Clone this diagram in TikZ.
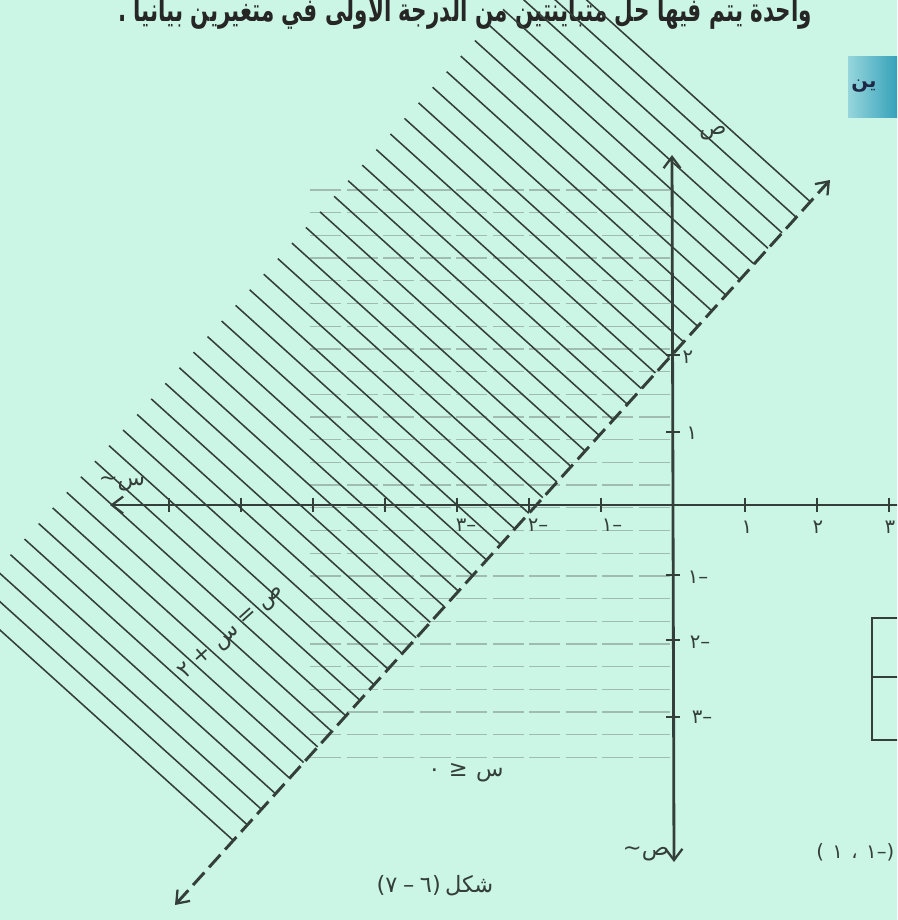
\documentclass[tikz,border=0pt]{standalone}
\usepackage{fontspec}
\usepackage{tikz}
\usetikzlibrary{arrows.meta,calc}
\TeXXeTstate=1
\newfontfamily\arfont[Script=Arabic]{DejaVu Sans}
\newfontfamily\plainfont{DejaVu Sans}
\definecolor{page}{RGB}{203,246,229}
\definecolor{ink}{RGB}{52,62,58}
\definecolor{faint}{RGB}{160,188,177}
\definecolor{tabdark}{RGB}{48,158,184}
\definecolor{tablight}{RGB}{150,214,220}
\definecolor{navy}{RGB}{30,40,70}
% a negative axis number, dash kept on the right of the digit
\newcommand{\minuslab}[1]{\mbox{#1}\mbox{–}}
% brackets and signs set left to right
\newcommand{\lpar}{{\plainfont(}}
\newcommand{\rpar}{{\plainfont)}}
\newcommand{\geqsign}{{\plainfont ≥}}

\begin{document}
\begin{tikzpicture}[x=0.025cm,y=-0.025cm,
    axis/.style={draw=ink,line width=2pt},
    tickmark/.style={draw=ink,line width=1.6pt},
    hatch/.style={draw=ink,line width=1.1pt},
    rowline/.style={draw=faint,line width=0.9pt,dash pattern=on 22pt off 4pt},
    bound/.style={draw=ink,line width=2.1pt,dash pattern=on 12pt off 5pt},
    barb/.style={arrows={Straight Barb[length=8pt,width=12pt,line width=1.6pt]-Straight Barb[length=8pt,width=12pt,line width=1.6pt]}},
    numlab/.style={font=\arfont\fontsize{14}{16}\selectfont,text=ink,inner sep=1pt},
    arlab/.style={font=\arfont\fontsize{16}{18}\selectfont,text=ink,inner sep=1pt},
    headtext/.style={font=\arfont\bfseries\fontsize{23}{26}\selectfont,text=black!85,inner sep=0pt,transform shape,xscale=0.663}
]
\path[use as bounding box] (0,0) rectangle (897,920);
\clip (0,0) rectangle (897,920);
\fill[page] (0,0) rectangle (897,920);

% heading line cut at the top, and the teal tab
\node[headtext,anchor=base east] (head) at (812,22) {\beginR واحدة يتم فيها حل متباينتين من الدرجة الأولى في متغيرين بيانياً .\endR};
\shade[left color=tablight,right color=tabdark] (848,57) rectangle (900,117);
\node[font=\arfont\bfseries\fontsize{14}{16}\selectfont,text=navy,anchor=west,inner sep=0pt] (tab) at (851,86) {ين};

% x <= 0 : faint horizontal lines
\foreach \k in {0,...,25} {
  \pgfmathsetmacro\hy{190+22.7*\k}
  \draw[rowline] (310,\hy) -- (670,\hy);
}

% hatching, perpendicular to the boundary line
\foreach \s in {87,108,...,960} {
  \pgfmathsetmacro\ex{175+0.670*\s}
  \pgfmathsetmacro\ey{905-0.742*\s}
  \draw[hatch] (\ex-265,\ey-239) -- (\ex,\ey);
}

% axes
\coordinate (xl) at (110,505);
\coordinate (xr) at (910,505);
\coordinate (yt) at (672,155);
\coordinate (yb) at (674,862);
\draw[axis,arrows={Straight Barb[length=8pt,width=12pt,line width=1.6pt]-}] (xl) -- (xr);
\draw[axis,barb] (yt) -- (yb);
\foreach \k in {-7,...,-1,1,2,3}
  \draw[tickmark] (673+72*\k,498) -- (673+72*\k,512);
\foreach \t in {355,432,575,640,717}
  \draw[tickmark] (666,\t) -- (680,\t);

% boundary line
\coordinate (lb) at (175,905);
\coordinate (lt) at (830,180);
\draw[bound,barb] (lb) -- (lt);

% axis numbers
\node[numlab] (p1) at (747,527) {١};
\node[numlab] (p2) at (818,527) {٢};
\node[numlab] (p3) at (890,527) {٣};
\node[numlab] (m1) at (612,525) {\minuslab{١}};
\node[numlab] (m2) at (538,525) {\minuslab{٢}};
\node[numlab] (m3) at (466,525) {\minuslab{٣}};
\node[numlab] (q1) at (692,433) {١};
\node[numlab] (q2) at (688,357) {٢};
\node[numlab] (n1) at (698,577) {\minuslab{١}};
\node[numlab] (n2) at (700,642) {\minuslab{٢}};
\node[numlab] (n3) at (702,717) {\minuslab{٣}};

% axis names
\node[arlab] (yname) at (713,133) {ص};
\node[arlab] (ybar) at (646,854) {\mbox{\textasciitilde}\mbox{ص}};
\node[arlab] (xbar) at (122,484) {\mbox{\textasciitilde}\mbox{س}};

% equation of the line, and the other condition
\node[arlab,rotate=42] (eq) at (232,632) {\mbox{٢}\hspace{5pt}\mbox{+}\hspace{5pt}\mbox{س}\hspace{5pt}\mbox{=}\hspace{5pt}\mbox{ص}};
\node[arlab] (cond) at (466,773) {\mbox{٠}\hspace{6pt}\geqsign\hspace{6pt}\mbox{س}};

% point and caption
\node[numlab,anchor=east] (pt) at (896,852) {\lpar\hspace{6pt}\mbox{١}\hspace{6pt}\mbox{،}\hspace{6pt}\mbox{١}\mbox{–}\rpar};
\node[arlab] (cap) at (435,886) {\lpar\mbox{٧}\hspace{4pt}\mbox{–}\hspace{4pt}\mbox{٦}\rpar\hspace{3pt}\mbox{شكل}};

% edge of the table at the right
\draw[ink,line width=1.6pt] (905,618) -| (872,740) -- (905,740);
\draw[ink,line width=1.6pt] (872,677) -- (905,677);
\end{tikzpicture}
\end{document}
